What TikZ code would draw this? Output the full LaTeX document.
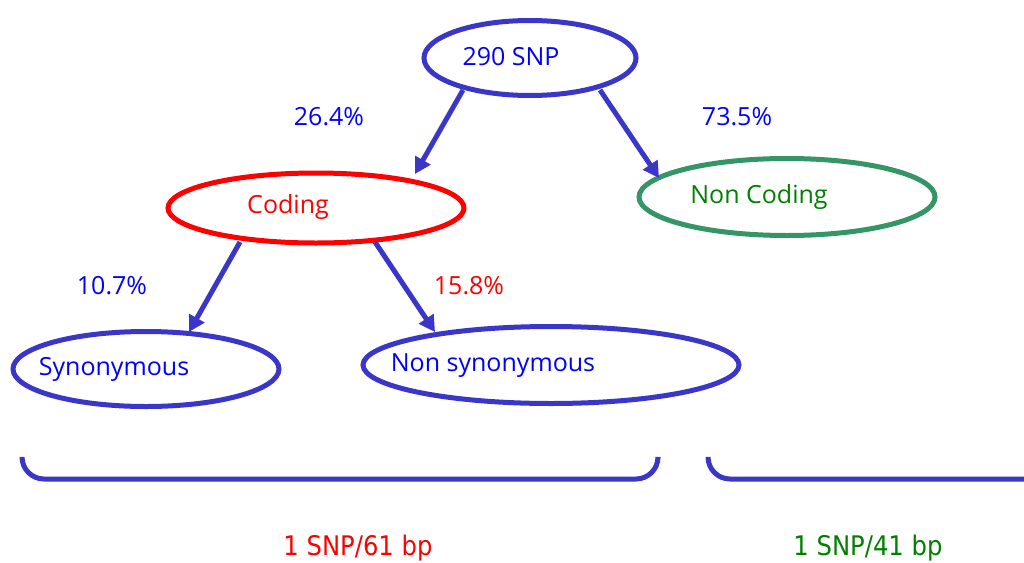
\documentclass[tikz,border=0pt]{standalone}
\usepackage{fontspec}
\setmainfont{Open Sans}
\newfontfamily\bottomfont{DejaVu Sans Condensed}
\usetikzlibrary{arrows.meta,shapes.geometric}
\definecolor{lineblue}{RGB}{58,54,200}
\definecolor{txtblue}{RGB}{0,0,255}
\definecolor{txtred}{RGB}{255,0,0}
\definecolor{txtgreen}{RGB}{0,128,0}
\definecolor{ellgreen}{RGB}{52,150,102}
\begin{document}
\begin{tikzpicture}[x=1pt,y=-1pt,
  ell/.style={draw, ellipse, line width=5pt, inner sep=0pt},
  lbl/.style={font=\fontsize{25}{30}\selectfont, inner sep=0pt},
  pct/.style={font=\fontsize{25}{30}\selectfont, inner sep=0pt, text=txtblue},
  arr/.style={draw=lineblue, line width=5pt, -{Triangle[length=16pt,width=17pt]}},
  brace/.style={draw=lineblue, line width=5pt, rounded corners=22pt},
  btm/.style={font=\bottomfont\fontsize{27}{32}\selectfont, inner sep=0pt}]
\useasboundingbox (0,0) rectangle (1024,562);
% ellipses
\node[ell, draw=lineblue, minimum width=212pt, minimum height=75pt] (snp) at (530,58) {};
\node[ell, draw=txtred, minimum width=296pt, minimum height=70pt] (cod) at (316,208) {};
\node[ell, draw=ellgreen, minimum width=296pt, minimum height=77pt] (ncod) at (787,197) {};
\node[ell, draw=lineblue, minimum width=266pt, minimum height=75pt] (syn) at (146,369) {};
\node[ell, draw=lineblue, minimum width=376pt, minimum height=77pt] (nsyn) at (551,365) {};
% texts
\node[lbl, text=txtblue] (snpt) at (511,57) {290 SNP};
\node[lbl, text=txtred] (codt) at (288,207) {Coding};
\node[lbl, text=txtgreen] (ncodt) at (759,197) {Non Coding};
\node[lbl, text=txtblue] (synt) at (114,369) {Synonymous};
\node[lbl, text=txtblue] (nsynt) at (493,366) {Non synonymous};
% percentages
\node[pct] (p1) at (329,117) {26.4\%};
\node[pct] (p2) at (737,117) {73.5\%};
\node[pct] (p3) at (112,286) {10.7\%};
\node[pct, text=txtred] (p4) at (469,286) {15.8\%};
% arrows
\coordinate (a1s) at (463,90); \coordinate (a1e) at (415,174);
\coordinate (a2s) at (600,90); \coordinate (a2e) at (659,178);
\coordinate (a3s) at (240,242); \coordinate (a3e) at (189,332);
\coordinate (a4s) at (375,242); \coordinate (a4e) at (435,332);
\draw[arr] (a1s) -- (a1e);
\draw[arr] (a2s) -- (a2e);
\draw[arr] (a3s) -- (a3e);
\draw[arr] (a4s) -- (a4e);
% braces
\coordinate (b1a) at (22,458); \coordinate (b1b) at (22,479);
\coordinate (b1c) at (658,479); \coordinate (b1d) at (658,458);
\draw[brace] (b1a) -- (b1b) -- (b1c) -- (b1d);
\coordinate (b2a) at (708,458); \coordinate (b2b) at (708,479);
\coordinate (b2c) at (1050,479); \coordinate (b2d) at (1050,458);
\draw[brace] (b2a) -- (b2b) -- (b2c) -- (b2d);
% bottom labels
\node[btm, text=txtred] (d1) at (358,548) {1 SNP/61 bp};
\node[btm, text=txtgreen] (d2) at (868,548) {1 SNP/41 bp};
\end{tikzpicture}
\end{document}
